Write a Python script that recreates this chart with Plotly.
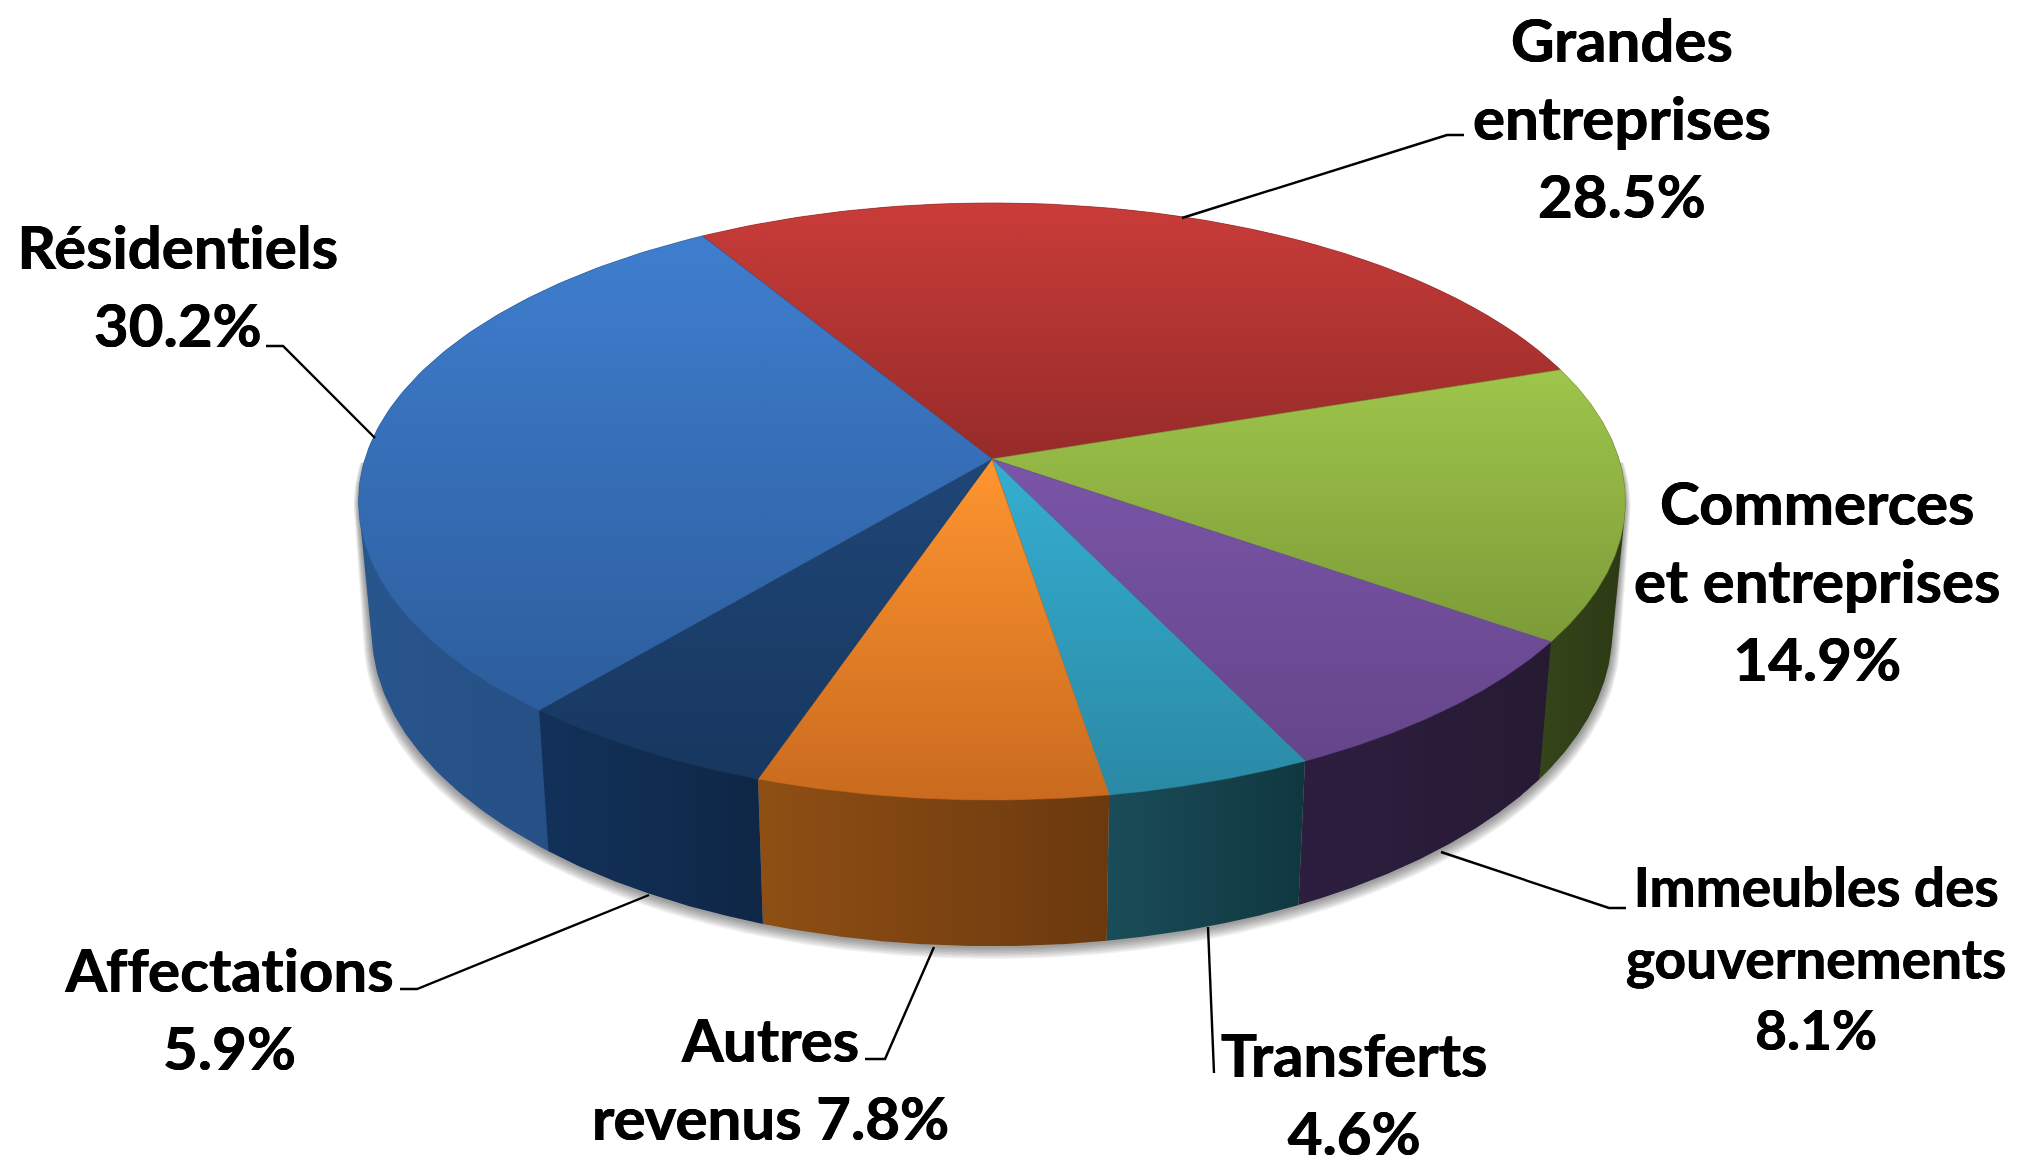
import numpy as np
import plotly.graph_objects as go

# --- data ---
categories = ["Grandes entreprises", "Commerces et entreprises", "Immeubles des gouvernements",
              "Transferts", "Autres revenus", "Affectations", "Résidentiels"]
values = [28.5, 14.9, 8.1, 4.6, 7.8, 5.9, 30.2]

# --- style ---
top_light = ["#c93c39", "#9fc54b", "#7a55a8", "#35aed1", "#ff9530", "#1f4677", "#3f7ecf"]
top_dark = ["#962b29", "#7c9b38", "#65458a", "#2a89a5", "#c96a1e", "#17375f", "#2c5d9c"]
side_left = ["#7a2220", "#35451a", "#2d1e3f", "#1a4d59", "#8f4f14", "#12315a", "#28558c"]
side_right = ["#7a2220", "#2c3a14", "#261a33", "#103740", "#6b390e", "#0f2746", "#244c80"]

label_text = ["Grandes<br>entreprises<br>28.5%", "Commerces<br>et entreprises<br>14.9%",
              "Immeubles des<br>gouvernements<br>8.1%", "Transferts<br>4.6%",
              "Autres<br>revenus 7.8%", "Affectations<br>5.9%", "Résidentiels<br>30.2%"]
label_x = [1622, 1817, 1816, 1354, 770, 229, 178]
label_y = [117, 580, 957, 1093, 1078, 1008, 285]
label_size = [60, 60, 55, 60, 60, 60, 60]
leaders = [
    [(1464, 135), (1447, 135), (1182, 218)],
    [],
    [(1626, 908), (1609, 908), (1441, 852)],
    [(1214, 1073), (1208, 927)],
    [(865, 1059), (885, 1059), (934, 947)],
    [(400, 989), (417, 989), (649, 895)],
    [(266, 346), (283, 346), (375, 438)],
]

# projection of the round pie on the picture
CX, CY, A, B, P = 992.0, 459.0, 627.0, 292.5, 0.1422
A2, CY2, B2 = 614.0, 586.0, 309.0
START = 328.8


def project(theta, a, cy, b):
    t = np.radians(theta)
    X, Y = np.sin(t), -np.cos(t)
    d = 1 - P * Y
    return CX + a * X / d, cy + b * Y / d


def hull(x, y):
    pts = sorted(set(zip(np.round(x, 3).tolist(), np.round(y, 3).tolist())))

    def half(seq):
        out = []
        for p in seq:
            while len(out) > 1 and ((out[-1][0] - out[-2][0]) * (p[1] - out[-2][1])
                                    - (out[-1][1] - out[-2][1]) * (p[0] - out[-2][0])) <= 0:
                out.pop()
            out.append(p)
        return out[:-1]

    h = half(pts) + half(pts[::-1])
    h.append(h[0])
    return [p[0] for p in h], [p[1] for p in h]


fig = go.Figure()

# soft shadow around the foot of the pie
ring = np.linspace(0, 360, 361)
front = np.linspace(90, 270, 181)
for e in range(8):
    sx, sy = project(ring, A2 + 1 + e, CY2 + 2 + e * 0.6, B2 + e * 0.8)
    tx, ty = project(front, A + e * 0.7, CY + 4, B)
    hx, hy = hull(np.r_[sx, tx], np.r_[sy, ty])
    fig.add_trace(go.Scatter(x=hx, y=hy, mode="lines", fill="toself", line_width=0,
                             fillcolor="rgba(40,40,40,0.07)", hoverinfo="skip"))

edges = START + np.cumsum([0] + values) * 3.6

# side walls: the two long walls go first, each one is the hull of its two arcs
for i in [0, 6, 1, 2, 3, 4, 5]:
    th = np.linspace(edges[i], edges[i + 1], 120)
    x1, y1 = project(th, A, CY, B)
    x2, y2 = project(th, A2, CY2, B2)
    hx, hy = hull(np.r_[x1, x2], np.r_[y1, y2])
    fig.add_trace(go.Scatter(
        x=hx, y=hy, mode="lines", fill="toself", line_width=0,
        fillgradient=dict(type="horizontal",
                          colorscale=[[0, side_left[i]], [1, side_right[i]]]),
        hoverinfo="skip"))

# top faces
for i in range(len(values)):
    th = np.linspace(edges[i], edges[i + 1], 120)
    x1, y1 = project(th, A, CY, B)
    fig.add_trace(go.Scatter(
        x=np.r_[CX, x1, CX], y=np.r_[CY, y1, CY], mode="lines", fill="toself",
        line=dict(width=0.6, color=top_dark[i]),
        fillgradient=dict(type="vertical",
                          colorscale=[[0, top_dark[i]], [1, top_light[i]]]),
        hoverinfo="skip"))

# leader lines
for pts in leaders:
    if pts:
        fig.add_trace(go.Scatter(x=[p[0] for p in pts], y=[p[1] for p in pts], mode="lines",
                                 line=dict(color="black", width=2.4), hoverinfo="skip"))

for i in range(len(label_text)):
    fig.add_annotation(x=label_x[i], y=label_y[i], text=f"<b>{label_text[i]}</b>", showarrow=False,
                       xanchor="center", yanchor="middle", align="center",
                       font=dict(family="Lato", size=label_size[i], color="black",
                                 shadow="0.45px 0 0 #000, -0.45px 0 0 #000"))

fig.update_layout(width=2018, height=1161, margin=dict(l=0, r=0, t=0, b=0), showlegend=False,
                  plot_bgcolor="white", paper_bgcolor="white",
                  xaxis=dict(range=[0, 2018], visible=False, fixedrange=True),
                  yaxis=dict(range=[1161, 0], visible=False, fixedrange=True))
fig.write_html("out.html", config={"displayModeBar": False},
               post_script="document.body.style.margin='0';document.body.style.overflow='hidden';"
                           "var s=document.createElement('style');"
                           "s.textContent='svg text,svg text tspan{font-variant-ligatures:none !important;"
                           "font-feature-settings:\"liga\" 0,\"clig\" 0,\"dlig\" 0 !important}';"
                           "document.head.appendChild(s);")
